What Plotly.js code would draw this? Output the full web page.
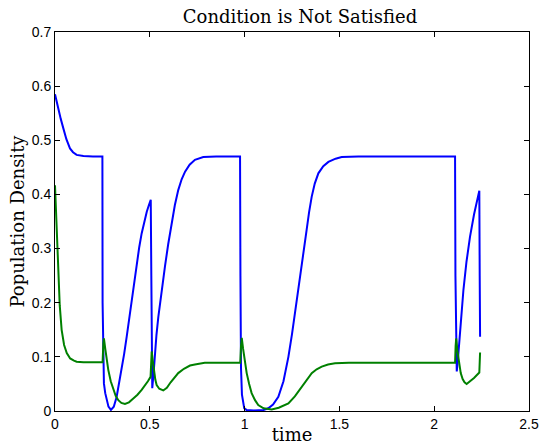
<!DOCTYPE html>
<html>
<head>
<meta charset="utf-8">
<script src="https://cdn.plot.ly/plotly-3.0.1.min.js"></script>
<style>html,body{margin:0;padding:0;background:#fff;}</style>
</head>
<body>
<div id="chart" style="width:541px;height:445px;"></div>
<script>
// Blue series (time, population density)
const blueT = [0, 0.01, 0.02, 0.03, 0.044, 0.06, 0.079, 0.095, 0.114, 0.15, 0.2, 0.25,
  0.251, 0.254, 0.258, 0.265, 0.272, 0.282, 0.295, 0.31, 0.325, 0.338, 0.351, 0.365, 0.378, 0.391, 0.404, 0.418, 0.431, 0.444, 0.457, 0.470, 0.484, 0.495, 0.505,
  0.508, 0.511, 0.513, 0.52, 0.527, 0.535, 0.545, 0.562, 0.580, 0.597, 0.615, 0.632, 0.650, 0.668, 0.686, 0.71, 0.738, 0.782, 0.85, 0.976,
  0.978, 0.981, 0.986, 0.992, 0.998, 1.01, 1.05, 1.10, 1.125, 1.15, 1.178, 1.205, 1.231, 1.25, 1.266, 1.284, 1.301, 1.314, 1.327, 1.340, 1.354, 1.370, 1.389, 1.415, 1.442, 1.48, 1.512, 1.6, 2.11,
  2.112, 2.116, 2.119, 2.125, 2.136, 2.145, 2.154, 2.17, 2.189, 2.21, 2.238, 2.240, 2.242];
const blueY = [0.585, 0.568, 0.554, 0.540, 0.522, 0.502, 0.485, 0.478, 0.473, 0.471, 0.470, 0.470,
  0.20, 0.085, 0.051, 0.033, 0.020, 0.008, 0.002, 0.008, 0.026, 0.050, 0.076, 0.106, 0.137, 0.171, 0.205, 0.240, 0.273, 0.302, 0.328, 0.350, 0.368, 0.380, 0.390,
  0.25, 0.10, 0.042, 0.070, 0.107, 0.140, 0.174, 0.222, 0.267, 0.308, 0.347, 0.380, 0.408, 0.428, 0.442, 0.455, 0.464, 0.469, 0.470, 0.470,
  0.25, 0.08, 0.03, 0.012, 0.005, 0.002, 0.001, 0.002, 0.005, 0.012, 0.026, 0.055, 0.100, 0.142, 0.180, 0.224, 0.267, 0.300, 0.334, 0.367, 0.396, 0.420, 0.439, 0.452, 0.460, 0.466, 0.469, 0.470, 0.470,
  0.25, 0.10, 0.073, 0.095, 0.150, 0.188, 0.223, 0.275, 0.322, 0.363, 0.407, 0.25, 0.137];

// Green series (time, population density)
const greenT = [0, 0.005, 0.01, 0.018, 0.025, 0.035, 0.048, 0.062, 0.08, 0.1, 0.114, 0.15, 0.251,
  0.255, 0.258, 0.265, 0.272, 0.281, 0.294, 0.307, 0.32, 0.334, 0.35, 0.369, 0.39, 0.413, 0.435, 0.457, 0.475, 0.49, 0.504,
  0.507, 0.510, 0.515, 0.522, 0.529, 0.536, 0.55, 0.571, 0.59, 0.61, 0.63, 0.65, 0.68, 0.712, 0.738, 0.79, 0.85, 0.977,
  0.981, 0.985, 0.992, 1.0, 1.011, 1.024, 1.037, 1.055, 1.072, 1.10, 1.143, 1.18, 1.231, 1.265, 1.301, 1.33, 1.354, 1.38, 1.407, 1.44, 1.477, 1.55, 2.11,
  2.113, 2.116, 2.122, 2.13, 2.14, 2.15, 2.16, 2.171, 2.19, 2.21, 2.238, 2.240, 2.242];
const greenY = [0.417, 0.37, 0.31, 0.248, 0.195, 0.150, 0.122, 0.107, 0.097, 0.093, 0.091, 0.090, 0.090,
  0.125, 0.134, 0.115, 0.095, 0.076, 0.055, 0.039, 0.028, 0.020, 0.015, 0.013, 0.016, 0.023, 0.030, 0.039, 0.047, 0.055, 0.063,
  0.090, 0.110, 0.095, 0.072, 0.058, 0.048, 0.041, 0.038, 0.043, 0.053, 0.062, 0.070, 0.078, 0.084, 0.086, 0.089, 0.089, 0.089,
  0.120, 0.135, 0.115, 0.093, 0.070, 0.050, 0.033, 0.020, 0.011, 0.005, 0.003, 0.006, 0.014, 0.027, 0.045, 0.060, 0.070, 0.077, 0.082, 0.086, 0.088, 0.089, 0.089,
  0.120, 0.134, 0.112, 0.088, 0.070, 0.059, 0.053, 0.050, 0.055, 0.061, 0.071, 0.090, 0.108];

const xTicks = [0, 0.5, 1, 1.5, 2, 2.5];
const xTickText = ["0", "0.5", "1", "1.5", "2", "2.5"];
const yTicks = [0, 0.1, 0.2, 0.3, 0.4, 0.5, 0.6, 0.7];
const yTickText = ["0", "0.1", "0.2", "0.3", "0.4", "0.5", "0.6", "0.7"];

const serif = "DejaVu Serif, Liberation Serif, serif";
const sans = "Liberation Sans, Arial, sans-serif";

const traces = [
  {x: blueT, y: blueY, type: "scatter", mode: "lines", line: {color: "#0000ff", width: 2}, hoverinfo: "skip"},
  {x: greenT, y: greenY, type: "scatter", mode: "lines", line: {color: "#008000", width: 2}, hoverinfo: "skip"}
];

const axisCommon = {
  showgrid: false, zeroline: false, showline: true, linecolor: "#000", linewidth: 1,
  mirror: "ticks", ticks: "inside", ticklen: 5, tickcolor: "#000", tickwidth: 1,
  tickfont: {family: sans, size: 14, color: "#000"}
};

const layout = {
  width: 541, height: 445,
  margin: {l: 55, r: 12, t: 32, b: 34},
  paper_bgcolor: "#fff", plot_bgcolor: "#fff",
  showlegend: false,
  title: {text: "Condition is Not Satisfied", font: {family: serif, size: 18, color: "#000"},
          xref: "container", x: 300/541, xanchor: "center", yref: "container", y: 1 - 17/445, yanchor: "middle"},
  xaxis: Object.assign({}, axisCommon, {
    range: [0, 2.5], tickvals: xTicks, ticktext: xTickText,
    title: {text: "time", font: {family: serif, size: 18, color: "#000"}, standoff: 0}
  }),
  yaxis: Object.assign({}, axisCommon, {
    range: [0, 0.7], tickvals: yTicks, ticktext: yTickText,
    title: {text: "Population Density", font: {family: serif, size: 18, color: "#000"}, standoff: 2}
  })
};

Plotly.newPlot("chart", traces, layout, {displayModeBar: false, staticPlot: true});
</script>
</body>
</html>
